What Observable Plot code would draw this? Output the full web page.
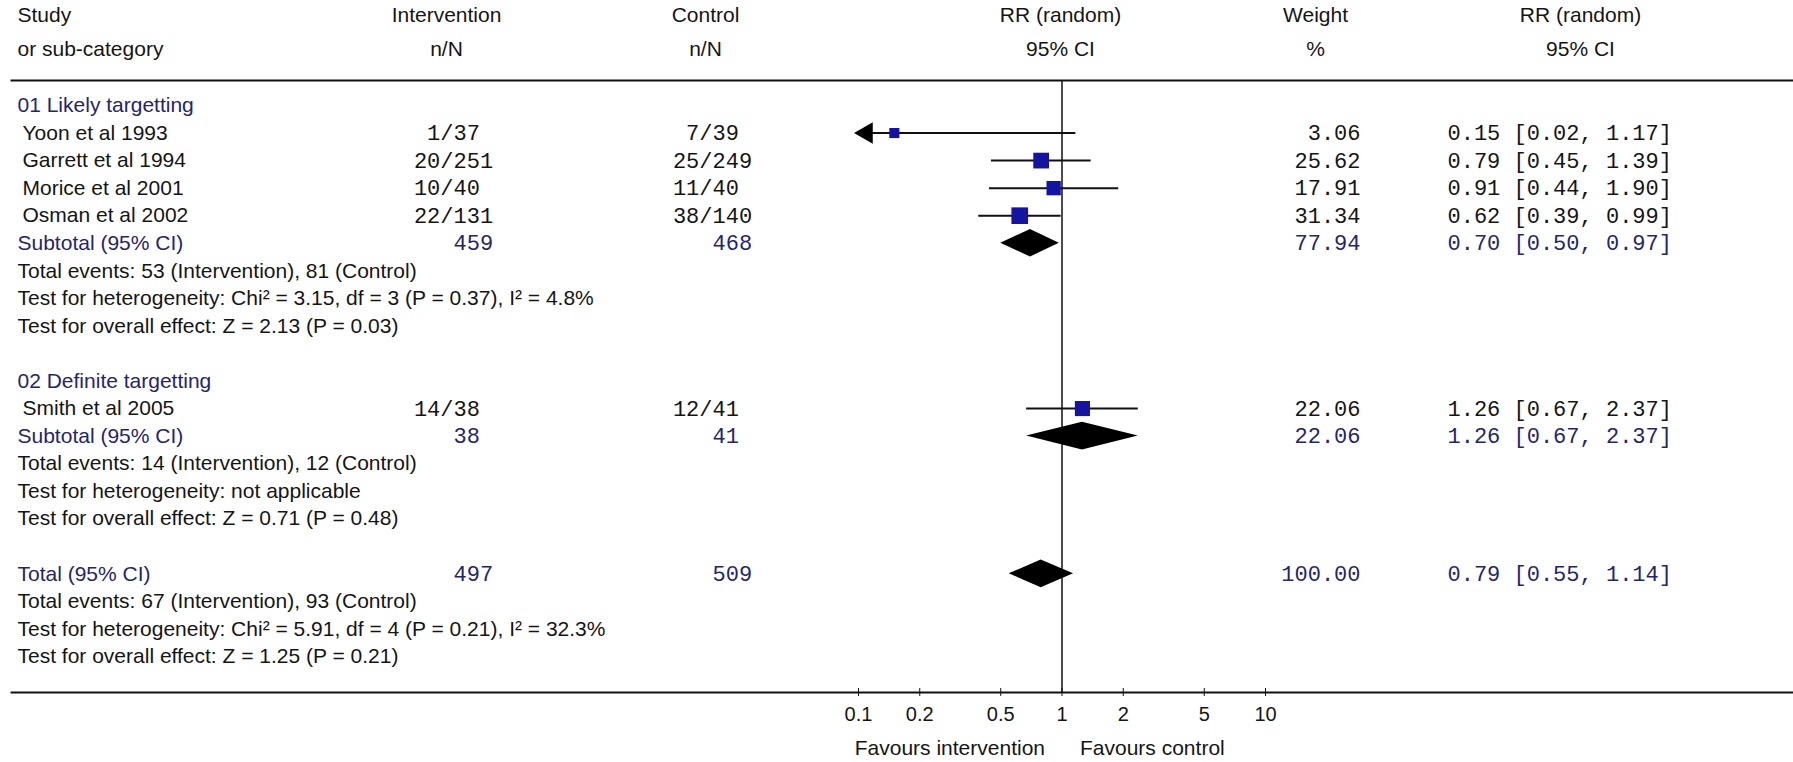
<!DOCTYPE html>
<html>
<head>
<meta charset="utf-8">
<script src="https://cdn.jsdelivr.net/npm/d3@7"></script>
<script src="https://cdn.jsdelivr.net/npm/@observablehq/plot@0.6"></script>
<style>
  html, body { margin: 0; padding: 0; background: #fff; }
  #chart svg { display: block; }
</style>
</head>
<body>
<div id="chart"></div>
<script>
// ---------- DATA ----------
const groupLabels = ["01 Likely targetting", "02 Definite targetting"];
const studies     = ["Yoon et al 1993", "Garrett et al 1994", "Morice et al 2001", "Osman et al 2002", "Smith et al 2005"];
const studyGroup  = [1, 1, 1, 1, 2];
const intEvents   = [1, 20, 10, 22, 14];
const intTotal    = [37, 251, 40, 131, 38];
const ctrlEvents  = [7, 25, 11, 38, 12];
const ctrlTotal   = [39, 249, 40, 140, 41];
const studyRR     = [0.15, 0.79, 0.91, 0.62, 1.26];
const studyLo     = [0.02, 0.45, 0.44, 0.39, 0.67];
const studyHi     = [1.17, 1.39, 1.90, 0.99, 2.37];
const studyWeight = [3.06, 25.62, 17.91, 31.34, 22.06];

const pooledLabels = ["Subtotal (95% CI)", "Subtotal (95% CI)", "Total (95% CI)"];
const pooledInt    = [459, 38, 497];
const pooledCtrl   = [468, 41, 509];
const pooledRR     = [0.70, 1.26, 0.79];
const pooledLo     = [0.50, 0.67, 0.55];
const pooledHi     = [0.97, 2.37, 1.14];
const pooledWeight = [77.94, 22.06, 100.00];
const pooledStats  = [
  ["Total events: 53 (Intervention), 81 (Control)",
   "Test for heterogeneity: Chi\u00B2 = 3.15, df = 3 (P = 0.37), I\u00B2 = 4.8%",
   "Test for overall effect: Z = 2.13 (P = 0.03)"],
  ["Total events: 14 (Intervention), 12 (Control)",
   "Test for heterogeneity: not applicable",
   "Test for overall effect: Z = 0.71 (P = 0.48)"],
  ["Total events: 67 (Intervention), 93 (Control)",
   "Test for heterogeneity: Chi\u00B2 = 5.91, df = 4 (P = 0.21), I\u00B2 = 32.3%",
   "Test for overall effect: Z = 1.25 (P = 0.21)"]
];

const headerTop    = ["Study", "Intervention", "Control", "RR (random)", "Weight", "RR (random)"];
const headerBottom = ["or sub-category", "n/N", "n/N", "95% CI", "%", "95% CI"];
const xTicks = [0.1, 0.2, 0.5, 1, 2, 5, 10];
const favoursLeft = "Favours intervention";
const favoursRight = "Favours control";

// ---------- ROW LAYOUT ----------
const studyRows = [], pooledRows = [], labelRows = [];
let r = 0;
function addPooled(p) {
  const row = {row: r++, label: pooledLabels[p], nT: pooledInt[p], cT: pooledCtrl[p],
               rr: pooledRR[p], lo: pooledLo[p], hi: pooledHi[p], w: pooledWeight[p]};
  pooledRows.push(row);
  labelRows.push({row: row.row, label: row.label, kind: "pooled"});
  pooledStats[p].forEach(s => labelRows.push({row: r++, label: s, kind: "stat"}));
}
groupLabels.forEach((g, gi) => {
  labelRows.push({row: r++, label: g, kind: "group"});
  studies.forEach((s, si) => {
    if (studyGroup[si] !== gi + 1) return;
    studyRows.push({row: r++, label: s, n: intEvents[si], N: intTotal[si], cn: ctrlEvents[si], cN: ctrlTotal[si],
                    rr: studyRR[si], lo: studyLo[si], hi: studyHi[si], w: studyWeight[si]});
  });
  addPooled(gi);
  r++; // blank line
});
addPooled(2);
const nRows = r - 1;

// diamonds
const diamondPts = [];
pooledRows.forEach((d, k) => {
  diamondPts.push({id: k, y: d.row - 0.5, x1: d.rr, x2: d.rr});
  diamondPts.push({id: k, y: d.row, x1: d.lo, x2: d.hi});
  diamondPts.push({id: k, y: d.row + 0.5, x1: d.rr, x2: d.rr});
});

// ---------- STYLE / LAYOUT CONSTANTS ----------
const W = 1793, H = 762;
const mL = 11, mT = 80, mB = 70;
const sans = "'Liberation Sans', Arial, sans-serif";
const mono = "'Liberation Mono', 'Courier New', monospace";
const sansSize = 21, monoSize = 22;
const ink = "#151515", navy = "#25256e", blue = "#1414a0";
const colHead = [17, 446, 705, 1060, 1315, 1580];
const headAnchor = ["start", "middle", "middle", "middle", "middle", "middle"];
const intSlash = 453, ctrlSlash = 712, weightRight = 1360, ciLeft = 1447;
const fmtCI = d => `${d.rr.toFixed(2)} [${d.lo.toFixed(2)}, ${d.hi.toFixed(2)}]`;

const marks = [
  Plot.frame({anchor: "top", strokeWidth: 2, stroke: "#111"}),
  Plot.frame({anchor: "bottom", strokeWidth: 2, stroke: "#111"}),
  Plot.ruleX([1], {stroke: "#111", strokeWidth: 1.5}),
  Plot.axisX({anchor: "bottom", ticks: xTicks, tickFormat: d => String(d), tickSize: 8, dy: -4,
              tickPadding: 10, fontSize: 20, fontFamily: sans, stroke: "#111", fill: ink}),
  // CI lines
  Plot.ruleY(studyRows, {y: "row", x1: d => Math.max(d.lo, xTicks[0]), x2: d => Math.min(d.hi, xTicks[xTicks.length - 1]),
                         stroke: "#111", strokeWidth: 2}),
  // arrow heads for truncated CIs
  Plot.dot(studyRows.filter(d => d.lo < xTicks[0]), {x: () => xTicks[0], y: "row", symbol: "triangle", r: 8,
           rotate: -90, fill: "#000", stroke: "none", dx: 8}),
  // squares
  Plot.dot(studyRows, {x: "rr", y: "row", r: "w", symbol: "square", fill: blue, stroke: "none"}),
  // diamonds
  Plot.areaX(diamondPts, {y: "y", x1: "x1", x2: "x2", z: "id", fill: "#000", curve: "linear"}),
  // left labels
  Plot.text(labelRows, {y: "row", text: "label", frameAnchor: "left", textAnchor: "start", dx: 17 - mL,
            fill: d => (d.kind === "stat" ? ink : navy), fontFamily: sans, fontSize: sansSize}),
  Plot.text(studyRows, {y: "row", text: "label", frameAnchor: "left", textAnchor: "start", dx: 22 - mL,
            fill: ink, fontFamily: sans, fontSize: sansSize}),
  // n/N columns
  Plot.text(studyRows, {y: "row", text: d => d.n + "/", frameAnchor: "left", textAnchor: "end", dx: intSlash - mL,
            fill: ink, fontFamily: mono, fontSize: monoSize}),
  Plot.text(studyRows, {y: "row", text: d => String(d.N), frameAnchor: "left", textAnchor: "start", dx: intSlash - mL,
            fill: ink, fontFamily: mono, fontSize: monoSize}),
  Plot.text(studyRows, {y: "row", text: d => d.cn + "/", frameAnchor: "left", textAnchor: "end", dx: ctrlSlash - mL,
            fill: ink, fontFamily: mono, fontSize: monoSize}),
  Plot.text(studyRows, {y: "row", text: d => String(d.cN), frameAnchor: "left", textAnchor: "start", dx: ctrlSlash - mL,
            fill: ink, fontFamily: mono, fontSize: monoSize}),
  Plot.text(pooledRows, {y: "row", text: d => String(d.nT), frameAnchor: "left", textAnchor: "start", dx: intSlash - mL,
            fill: navy, fontFamily: mono, fontSize: monoSize}),
  Plot.text(pooledRows, {y: "row", text: d => String(d.cT), frameAnchor: "left", textAnchor: "start", dx: ctrlSlash - mL,
            fill: navy, fontFamily: mono, fontSize: monoSize}),
  // weight and CI
  Plot.text(studyRows, {y: "row", text: d => d.w.toFixed(2), frameAnchor: "left", textAnchor: "end", dx: weightRight - mL,
            fill: ink, fontFamily: mono, fontSize: monoSize}),
  Plot.text(studyRows, {y: "row", text: fmtCI, frameAnchor: "left", textAnchor: "start", dx: ciLeft - mL,
            fill: ink, fontFamily: mono, fontSize: monoSize}),
  Plot.text(pooledRows, {y: "row", text: d => d.w.toFixed(2), frameAnchor: "left", textAnchor: "end", dx: weightRight - mL,
            fill: navy, fontFamily: mono, fontSize: monoSize}),
  Plot.text(pooledRows, {y: "row", text: fmtCI, frameAnchor: "left", textAnchor: "start", dx: ciLeft - mL,
            fill: navy, fontFamily: mono, fontSize: monoSize}),
  // favours labels
  Plot.text([favoursLeft], {x: () => 1, text: d => d, frameAnchor: "bottom", textAnchor: "end", dx: -17, dy: 62,
            fill: ink, fontFamily: sans, fontSize: sansSize}),
  Plot.text([favoursRight], {x: () => 1, text: d => d, frameAnchor: "bottom", textAnchor: "start", dx: 18, dy: 62,
            fill: ink, fontFamily: sans, fontSize: sansSize})
];
// headers
headerTop.forEach((h, k) => {
  marks.push(Plot.text([h], {text: d => d, frameAnchor: "top-left", textAnchor: headAnchor[k], dx: colHead[k] - mL, dy: -73,
             fill: ink, fontFamily: sans, fontSize: sansSize}));
  marks.push(Plot.text([headerBottom[k]], {text: d => d, frameAnchor: "top-left", textAnchor: headAnchor[k], dx: colHead[k] - mL, dy: -39,
             fill: ink, fontFamily: sans, fontSize: sansSize}));
});

const chart = Plot.plot({
  width: W, height: H,
  marginLeft: mL, marginRight: 0, marginTop: mT, marginBottom: mB,
  style: {fontFamily: sans, fontSize: "20px", background: "#fff", color: ink},
  x: {type: "log", domain: [xTicks[0], xTicks[xTicks.length - 1]], range: [858, 1265]},
  y: {domain: [0, nRows], range: [105, 656], axis: null},
  r: {type: "sqrt", domain: [0, d3.max(studyWeight)], range: [4, 9.4]},
  marks
});
document.getElementById("chart").appendChild(chart);
</script>
</body>
</html>
